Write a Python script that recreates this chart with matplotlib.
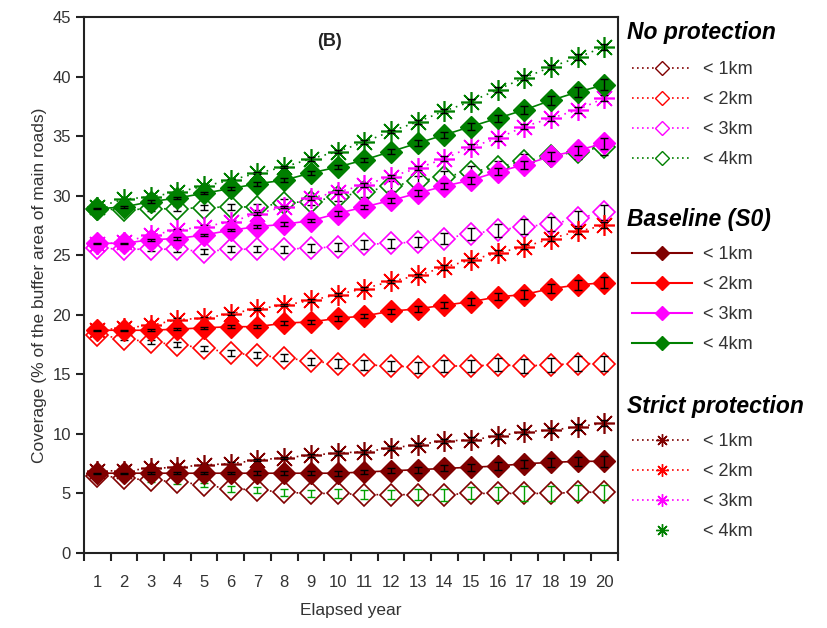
import numpy as np
import matplotlib.pyplot as plt
from matplotlib.lines import Line2D

plt.rcParams['font.family'] = ['Liberation Sans', 'DejaVu Sans']

years = list(range(1, 21))

# coverage (% of buffer area of main roads)
no_1km = [6.5, 6.3, 6.1, 6.0, 5.7, 5.4, 5.3, 5.1, 5.0, 5.0, 4.9, 4.9, 4.9, 4.9, 5.0, 5.0, 5.0, 5.0, 5.1, 5.1]
no_2km = [18.3, 18.0, 17.7, 17.5, 17.2, 16.8, 16.6, 16.4, 16.1, 15.9, 15.8, 15.7, 15.6, 15.7, 15.7, 15.8, 15.7, 15.8, 15.9, 15.9]
no_3km = [25.6, 25.5, 25.5, 25.5, 25.3, 25.5, 25.5, 25.5, 25.6, 25.7, 25.9, 26.0, 26.1, 26.4, 26.8, 27.1, 27.4, 27.6, 28.1, 28.6]
no_4km = [28.9, 28.8, 28.9, 28.9, 29.0, 29.05, 29.05, 29.4, 29.5, 29.9, 30.3, 30.8, 31.2, 31.6, 32.0, 32.4, 32.9, 33.3, 33.7, 34.1]

base_1km = [6.7, 6.7, 6.7, 6.7, 6.7, 6.7, 6.7, 6.7, 6.7, 6.7, 6.8, 6.9, 7.0, 7.1, 7.2, 7.3, 7.5, 7.6, 7.7, 7.7]
base_2km = [18.7, 18.7, 18.7, 18.8, 18.9, 19.0, 19.0, 19.3, 19.4, 19.7, 19.9, 20.3, 20.5, 20.8, 21.1, 21.5, 21.7, 22.2, 22.5, 22.7]
base_3km = [26.0, 26.0, 26.3, 26.4, 26.7, 27.1, 27.4, 27.6, 27.9, 28.5, 29.05, 29.6, 30.2, 30.8, 31.3, 32.0, 32.6, 33.3, 33.8, 34.4]
base_4km = [28.9, 29.05, 29.5, 29.8, 30.2, 30.6, 31.0, 31.3, 31.9, 32.4, 33.0, 33.7, 34.4, 35.1, 35.8, 36.5, 37.2, 38.0, 38.7, 39.3]

strict_1km = [6.9, 6.9, 7.1, 7.2, 7.4, 7.5, 7.8, 8.0, 8.2, 8.4, 8.5, 8.8, 9.1, 9.4, 9.5, 9.8, 10.2, 10.3, 10.6, 10.9]
strict_2km = [18.7, 18.9, 19.1, 19.6, 19.7, 20.1, 20.5, 20.8, 21.2, 21.7, 22.2, 22.8, 23.3, 24.0, 24.6, 25.2, 25.7, 26.4, 27.0, 27.5]
strict_3km = [25.9, 26.1, 26.7, 27.1, 27.4, 27.8, 28.5, 29.05, 29.8, 30.3, 30.9, 31.6, 32.3, 33.1, 34.1, 34.8, 35.8, 36.5, 37.2, 38.2]
strict_4km = [29.05, 29.7, 29.9, 30.3, 30.8, 31.3, 31.9, 32.4, 33.1, 33.7, 34.5, 35.4, 36.2, 37.1, 37.9, 38.9, 39.9, 40.8, 41.6, 42.5]

# error bar half-widths
err_no = [0.1, 0.1, 0.15, 0.2, 0.2, 0.25, 0.25, 0.3, 0.3, 0.35, 0.4, 0.4, 0.45, 0.5, 0.5, 0.55, 0.6, 0.6, 0.65, 0.65]
err_base = [0.05, 0.05, 0.1, 0.1, 0.1, 0.1, 0.15, 0.15, 0.15, 0.2, 0.2, 0.2, 0.25, 0.25, 0.3, 0.3, 0.35, 0.4, 0.4, 0.45]
err_strict = [0.05, 0.05, 0.05, 0.1, 0.1, 0.1, 0.1, 0.1, 0.15, 0.15, 0.15, 0.15, 0.15, 0.2, 0.2, 0.2, 0.2, 0.2, 0.25, 0.25]

colors = ['#800000', '#FF0000', '#FF00FF', '#008000']
dist_labels = ['< 1km', '< 2km', '< 3km', '< 4km']
no_series = [no_1km, no_2km, no_3km, no_4km]
base_series = [base_1km, base_2km, base_3km, base_4km]
strict_series = [strict_1km, strict_2km, strict_3km, strict_4km]
no_errcol = ['#00A000', 'black', 'black', 'black']

star = (8, 2, 0)

fig = plt.figure(figsize=(8.27, 6.28), dpi=100)
ax = fig.add_axes([0.1016, 0.1194, 0.6454, 0.8536])

for c, ys, ec in zip(colors, no_series, no_errcol):
    ax.plot(years, ys, color=c, ls=(0, (1, 3)), lw=1.2, marker='D', ms=11,
            mfc='white', mec=c, mew=1.2, zorder=3)
    ax.errorbar(years, ys, yerr=err_no, fmt='none', ecolor=ec, elinewidth=1.0, capsize=3, capthick=1.0, zorder=3.5)
for c, ys in zip(colors, strict_series):
    ax.plot(years, ys, color=c, ls=(0, (1, 3)), lw=1.2, marker=star, ms=15,
            mec=c, mew=1.2, zorder=4)
    ax.errorbar(years, ys, yerr=err_strict, fmt='none', ecolor='black', elinewidth=1.0, capsize=3, capthick=1.0, zorder=5)
for c, ys in zip(colors, base_series):
    ax.plot(years, ys, color=c, ls='-', lw=1.2, marker='D', ms=11,
            mfc=c, mec=c, zorder=6)
    ax.errorbar(years, ys, yerr=err_base, fmt='none', ecolor='black', elinewidth=1.0, capsize=3, capthick=1.0, zorder=7)

ax.set_xlim(0.5, 20.5)
ax.set_ylim(0, 45)
ax.set_yticks(range(0, 46, 5))
ax.set_xticks(years)
ax.set_xticks(np.arange(0.5, 21, 1), minor=True)
ax.tick_params(axis='x', which='major', length=0, pad=16, labelsize=12, colors='#333333')
ax.tick_params(axis='x', which='minor', length=6, width=1.5, direction='out', color='#222222')
ax.tick_params(axis='y', length=6, width=1.5, direction='out', labelsize=12, labelcolor='#333333', color='#222222')
for s in ax.spines.values():
    s.set_linewidth(1.5)
    s.set_color('#222222')

ax.set_xlabel('Elapsed year', fontsize=12.5, color='#333333', labelpad=9)
ax.set_ylabel('Coverage (% of the buffer area of main roads)', fontsize=12.5, color='#333333', labelpad=4)
ax.text(0.46, 0.955, '(B)', transform=ax.transAxes, fontsize=13, fontweight='bold',
        color='#222222', ha='center', va='center')

# three legend groups, each with its own header
groups = [('No protection', 'no', 33, 54), ('Baseline (S0)', 'base', 220, 239),
          ('Strict protection', 'strict', 407, 426)]
for title, kind, ty, ly in groups:
    fig.text(627 / 827, 1 - ty / 628, title, fontsize=16.5, fontweight='bold',
             fontstyle='italic', color='black', ha='left', va='center')
    handles = []
    for k, c in enumerate(colors):
        if kind == 'no':
            h = Line2D([], [], color=c, ls=(0, (1, 2)), lw=1.2, marker='D', ms=7, mfc='white', mec=c)
        elif kind == 'base':
            h = Line2D([], [], color=c, ls='-', lw=1.5, marker='D', ms=7, mfc=c, mec=c)
        else:
            ls = 'none' if k == 3 else (0, (1, 2))
            h = Line2D([], [], color=c, ls=ls, lw=1.2, marker=star, ms=9, mec=c)
        handles.append(h)
    leg = fig.legend(handles, dist_labels, loc='upper left',
                     bbox_to_anchor=(0.7557, 1 - ly / 628),
                     frameon=False, fontsize=13, handlelength=3.3, handletextpad=0.6,
                     labelspacing=0.72, borderaxespad=0)
    for t in leg.get_texts():
        t.set_color('#333333')

fig.savefig('out.png', dpi=100)
